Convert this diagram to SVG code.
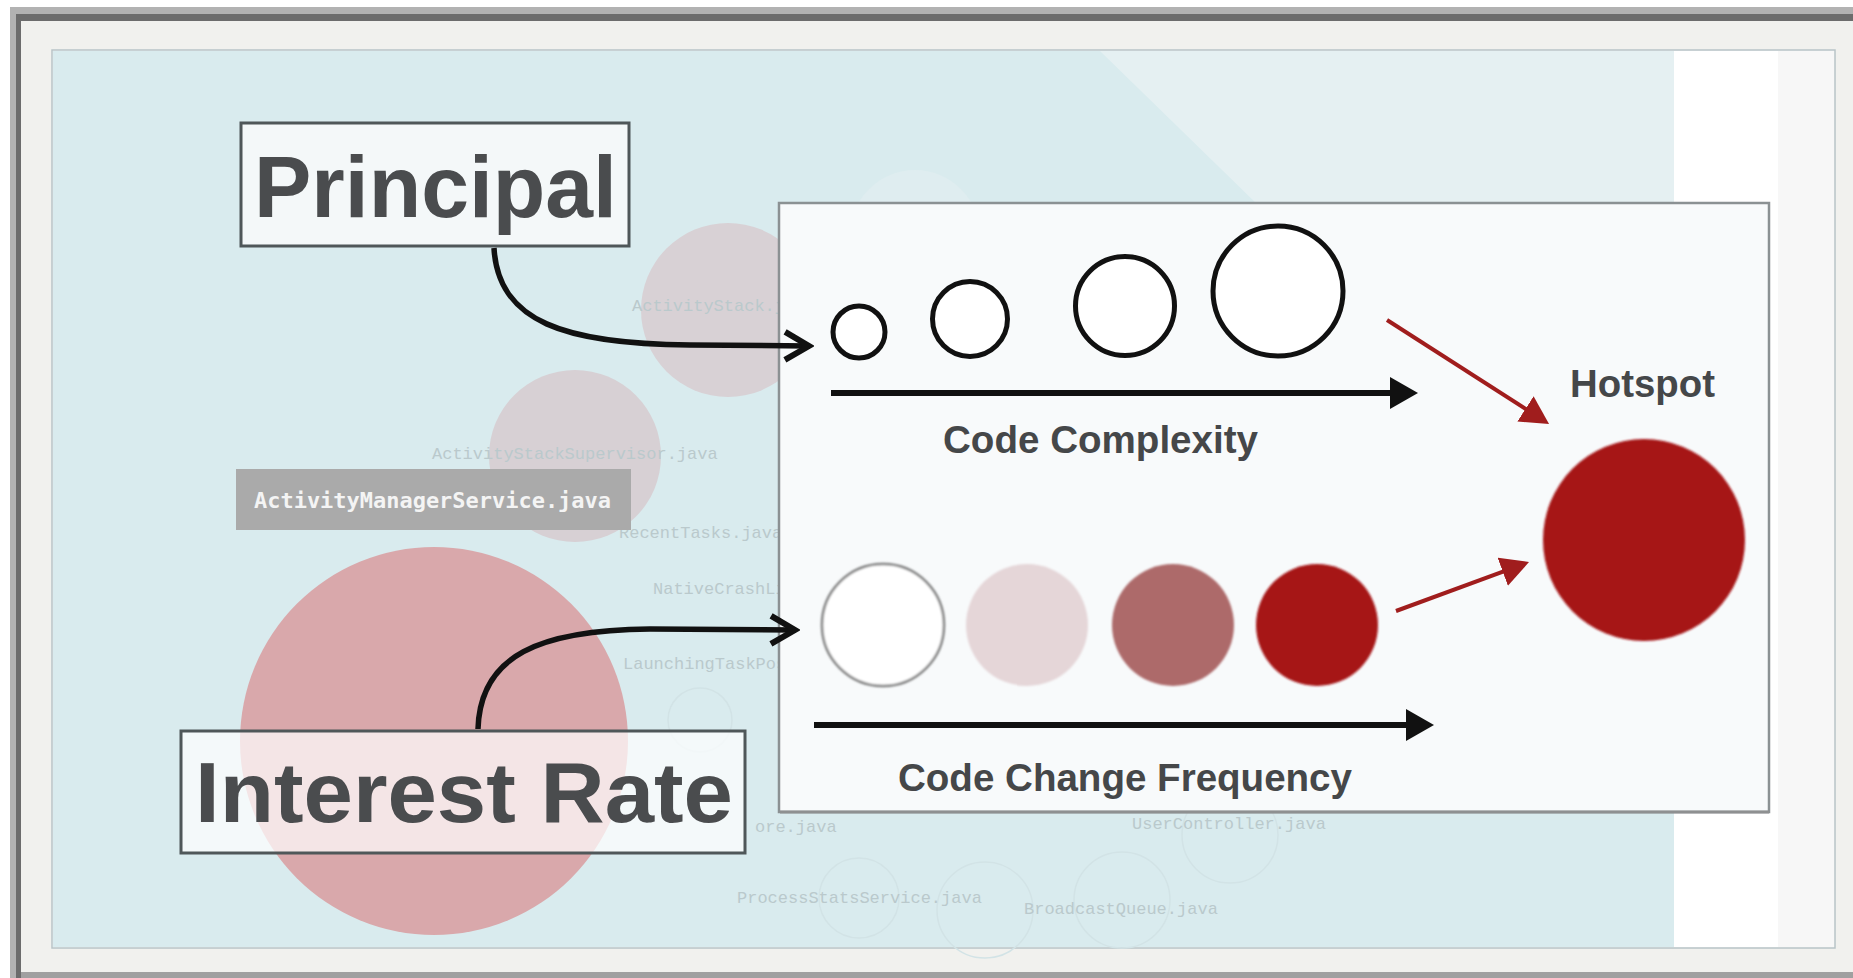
<svg xmlns="http://www.w3.org/2000/svg" width="1853" height="978" viewBox="0 0 1853 978">
  <defs>
    <style>
      .ghost { font-family: "Liberation Mono", "DejaVu Sans Mono", monospace; font-size: 17px; fill: #bac9cc; }
      .big { font-family: "Liberation Sans", Arial, sans-serif; font-weight: bold; fill: #4a4c4e; }
      .lbl { font-family: "Liberation Sans", Arial, sans-serif; font-weight: bold; font-size: 38px; fill: #454749; }
      .box { stroke: #4f5759; stroke-width: 3; }
      .ring { fill: #ffffff; stroke: #111111; stroke-width: 5; }
      .faint { fill: none; stroke: #d2e3e6; stroke-width: 1.5; }
      .curve { fill: none; stroke: #111111; stroke-width: 5.5; }
      .axis { fill: none; stroke: #111111; stroke-width: 6; }
      .red { fill: none; stroke: #a01d1d; stroke-width: 4; }
    </style>
    <filter id="soft" x="-10%" y="-10%" width="120%" height="120%">
      <feGaussianBlur stdDeviation="1.2"/>
    </filter>
    <marker id="chev" viewBox="0 0 34 34" refX="29" refY="17" markerWidth="34" markerHeight="34" orient="auto" markerUnits="userSpaceOnUse">
      <path d="M5 3 L29 17 L5 31" fill="none" stroke="#111111" stroke-width="6"/>
    </marker>
    <marker id="tri" viewBox="0 0 28 32" refX="22" refY="16" markerWidth="28" markerHeight="32" orient="auto" markerUnits="userSpaceOnUse">
      <path d="M0 0 L28 16 L0 32 Z" fill="#111111"/>
    </marker>
    <marker id="redtri" viewBox="0 0 28 30" refX="22" refY="15" markerWidth="28" markerHeight="30" orient="auto" markerUnits="userSpaceOnUse">
      <path d="M0 0 L28 15 L0 30 Z" fill="#a01d1d"/>
    </marker>
  </defs>

  <!-- frame -->
  <g id="frame">
    <rect x="0" y="0" width="1853" height="978" fill="#ffffff"/>
    <rect x="10" y="7" width="1853" height="975" fill="#b2b2b2"/>
    <rect x="16" y="14" width="1847" height="964" fill="#6c6c6c"/>
    <rect x="21" y="21" width="1842" height="951" fill="#f1f1ee"/>
    <rect x="21" y="972" width="1842" height="6" fill="#a0a0a0"/>
  </g>

  <!-- background panel -->
  <g id="panel">
    <rect x="52" y="50" width="1783" height="898" fill="#f7f7f7" stroke="#b8c4c7" stroke-width="1.5"/>
    <rect x="1674" y="51" width="104" height="896" fill="#ffffff"/>
    <rect x="53" y="51" width="1621" height="896" fill="#d9ebee"/>
    <path d="M1100 51 L1258 205 L1674 205 L1674 51 Z" fill="#e5f0f2"/>
    <circle cx="915" cy="235" r="65" fill="#dfedf0"/>
    <circle cx="728" cy="310" r="87" fill="#d8d1d5"/>
    <circle cx="575" cy="456" r="86" fill="#d7d0d4"/>
    <circle cx="434" cy="741" r="194" fill="#d9a8ab"/>
    <circle cx="700" cy="720" r="32" class="faint"/>
    <circle cx="859" cy="898" r="40" class="faint"/>
    <circle cx="985" cy="910" r="48" class="faint"/>
    <circle cx="1122" cy="900" r="48" class="faint"/>
    <circle cx="1230" cy="835" r="48" class="faint"/>
    <text class="ghost" x="632" y="311">ActivityStack.java</text>
    <text class="ghost" x="432" y="459">ActivityStackSupervisor.java</text>
    <text class="ghost" x="619" y="538">RecentTasks.java</text>
    <text class="ghost" x="653" y="594">NativeCrashListener.java</text>
    <text class="ghost" x="623" y="669">LaunchingTaskPositioner.java</text>
    <text class="ghost" x="755" y="832">ore.java</text>
    <text class="ghost" x="737" y="903">ProcessStatsService.java</text>
    <text class="ghost" x="1024" y="914">BroadcastQueue.java</text>
    <text class="ghost" x="1132" y="829">UserController.java</text>
  </g>

  <!-- file label -->
  <g id="activity-label">
    <rect x="236" y="469" width="395" height="61" fill="#aaaaaa"/>
    <text x="254" y="508" font-family="'DejaVu Sans Mono', 'Liberation Mono', monospace" font-weight="bold" font-size="22" fill="#f4f4f4" textLength="357" lengthAdjust="spacingAndGlyphs">ActivityManagerService.java</text>
  </g>

  <!-- main white panel -->
  <g id="complexity-panel">
    <rect x="779" y="203" width="990" height="609" fill="#f8fafb" stroke="#8b9193" stroke-width="2.5"/>
    <line x1="780" y1="812" x2="1769" y2="812" stroke="#8e9091" stroke-width="3"/>
  </g>

  <!-- principal -->
  <g id="principal">
    <rect x="241" y="123" width="388" height="123" fill="#f4f8f9" class="box"/>
    <text class="big" x="254" y="217" font-size="88" textLength="363" lengthAdjust="spacingAndGlyphs">Principal</text>
  </g>

  <!-- interest rate -->
  <g id="interest-rate">
    <rect x="181" y="731" width="564" height="122" fill="#ffffff" fill-opacity="0.7" class="box"/>
    <text class="big" x="195" y="822" font-size="86" textLength="538" lengthAdjust="spacingAndGlyphs">Interest Rate</text>
  </g>

  <!-- complexity circles -->
  <g id="complexity-circles">
    <circle class="ring" cx="859" cy="332" r="26"/>
    <circle class="ring" cx="970" cy="319" r="37.5"/>
    <circle class="ring" cx="1125" cy="306" r="49.5"/>
    <circle class="ring" cx="1278" cy="291" r="65"/>
  </g>

  <!-- frequency circles -->
  <g id="frequency-circles" filter="url(#soft)">
    <circle cx="883" cy="625" r="61" fill="#ffffff" stroke="#7c7c7c" stroke-width="2.5"/>
    <circle cx="1027" cy="625" r="61" fill="#e5d6d8"/>
    <circle cx="1173" cy="625" r="61" fill="#ad6a6b"/>
    <circle cx="1317" cy="625" r="61" fill="#a61418"/>
  </g>

  <!-- hotspot -->
  <g id="hotspot">
    <circle cx="1644" cy="540" r="101" fill="#a61418" filter="url(#soft)"/>
    <text class="lbl" x="1570" y="397" textLength="145" lengthAdjust="spacingAndGlyphs">Hotspot</text>
  </g>

  <!-- axis labels -->
  <g id="complexity-label">
    <text class="lbl" x="943" y="453" textLength="315" lengthAdjust="spacingAndGlyphs">Code Complexity</text>
  </g>
  <g id="frequency-label">
    <text class="lbl" x="898" y="791" textLength="454" lengthAdjust="spacingAndGlyphs">Code Change Frequency</text>
  </g>

  <!-- connectors -->
  <g id="connectors">
    <path class="curve" d="M494 248 C498 322 565 344 690 345 L809 346" marker-end="url(#chev)"/>
    <path class="curve" d="M478 729 C480 655 540 630 650 629 L795 630" marker-end="url(#chev)"/>
    <path class="axis" d="M831 393 L1412 393" marker-end="url(#tri)"/>
    <path class="axis" d="M814 725 L1428 725" marker-end="url(#tri)"/>
    <path class="red" d="M1387 320 L1544 420.7" marker-end="url(#redtri)"/>
    <path class="red" d="M1396 611 L1523.4 564.1" marker-end="url(#redtri)"/>
  </g>
</svg>
